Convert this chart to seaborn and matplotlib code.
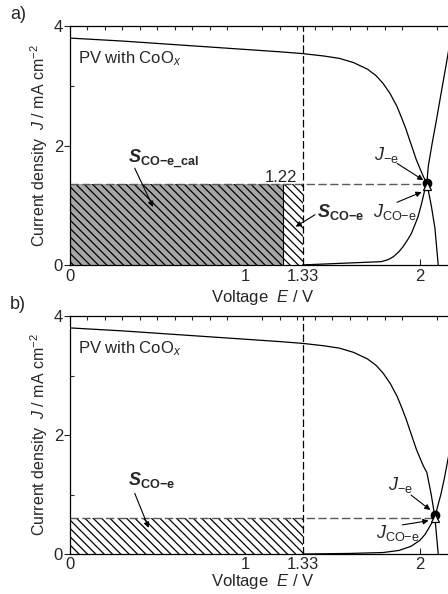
import matplotlib
matplotlib.use('Agg')
import matplotlib.pyplot as plt
import seaborn as sns
import pandas as pd

# PV curve (same cell in both panels)
pv_E = [0.0, 0.3, 0.6, 0.9, 1.2, 1.33, 1.45, 1.54, 1.62, 1.70, 1.75, 1.79, 1.83, 1.87, 1.895, 1.92, 1.95, 1.98, 2.0, 2.02, 2.04, 2.065, 2.086, 2.105]
pv_J = [3.80, 3.75, 3.69, 3.63, 3.57, 3.54, 3.50, 3.46, 3.39, 3.28, 3.17, 3.04, 2.87, 2.65, 2.47, 2.28, 2.02, 1.76, 1.62, 1.48, 1.37, 1.0, 0.62, 0.0]

# electrolyzer curves
ec_a_E = [1.33, 1.78, 1.82, 1.85, 1.88, 1.905, 1.93, 1.952, 1.97, 1.99, 2.01, 2.03, 2.04, 2.048, 2.07, 2.095, 2.12, 2.152, 2.2]
ec_a_J = [0.0, 0.055, 0.09, 0.14, 0.22, 0.31, 0.42, 0.53, 0.66, 0.81, 1.03, 1.28, 1.37, 1.65, 2.03, 2.43, 2.85, 3.38, 4.2]
ec_b_E = [1.33, 1.60, 1.79, 1.88, 1.95, 2.0, 2.03, 2.05, 2.07, 2.086, 2.10, 2.12, 2.14, 2.16, 2.2]
ec_b_J = [0.0, 0.01, 0.025, 0.06, 0.13, 0.23, 0.33, 0.43, 0.53, 0.62, 0.78, 1.0, 1.27, 1.58, 2.2]

# operating points
E_op = [2.04, 2.086]
J_e = [1.38, 0.65]
J_coe = [1.33, 0.60]
J_line = [1.35, 0.61]
E_cal = 1.22
E_th = 1.33

xticks = [0, 1, 1.33, 2]
xticklabels = ['0', '1', '1.33', '2']

sns.set_style('ticks')
plt.rcParams['font.family'] = ['Liberation Sans', 'DejaVu Sans']
plt.rcParams['mathtext.fontset'] = 'custom'
plt.rcParams['mathtext.rm'] = 'Liberation Sans'
plt.rcParams['mathtext.it'] = 'Liberation Sans:italic'
plt.rcParams['mathtext.bf'] = 'Liberation Sans:bold'
plt.rcParams['mathtext.bfit'] = 'Liberation Sans:bold:italic'
plt.rcParams['hatch.linewidth'] = 0.9

fig = plt.figure(figsize=(4.48, 5.94), dpi=100)
ax_a = fig.add_axes([0.15625, 0.554, 0.859, 0.402])
ax_b = fig.add_axes([0.15625, 0.0673, 0.859, 0.4007])

pv_df = pd.DataFrame({'E': pv_E, 'J': pv_J})
ec_dfs = [pd.DataFrame({'E': ec_a_E, 'J': ec_a_J}), pd.DataFrame({'E': ec_b_E, 'J': ec_b_J})]

for i, ax in enumerate([ax_a, ax_b]):
    sns.lineplot(data=pv_df, x='E', y='J', color='k', lw=0.9, sort=False, estimator=None, ax=ax)
    sns.lineplot(data=ec_dfs[i], x='E', y='J', color='k', lw=0.9, sort=False, estimator=None, ax=ax)

    # shaded areas
    if i == 0:
        ax.fill_between([0, E_cal], 0, J_line[i], facecolor='#a6a6a6', edgecolor='k', hatch='\\\\\\\\', lw=0, zorder=1)
        ax.fill_between([E_cal, E_th], 0, J_line[i], facecolor='white', edgecolor='k', hatch='\\\\\\\\', lw=0, zorder=1)
        ax.plot([E_cal, E_cal], [0, J_line[i]], color='k', lw=0.8, zorder=2)
    else:
        ax.fill_between([0, E_th], 0, J_line[i], facecolor='white', edgecolor='k', hatch='\\\\\\\\', lw=0, zorder=1)

    ax.axvline(E_th, color='k', lw=0.9, dashes=(6, 2.5), zorder=2)
    ax.plot([0, E_op[i]], [J_line[i], J_line[i]], color='0.35', lw=1.0, dashes=(6, 2.5), zorder=2)

    ax.plot(E_op[i], J_e[i], marker='o', ms=6, color='k', ls='none', zorder=5)
    ax.plot(E_op[i], J_coe[i], marker='^', ms=6, mfc='white', mec='k', mew=0.9, ls='none', zorder=6)

    ax.set_xlim(0, 2.2)
    ax.set_ylim(0, 4)
    ax.set_xticks(xticks)
    ax.set_xticklabels(xticklabels)
    ax.set_yticks([0, 2, 4])
    ax.set_yticks([1, 3], minor=True)
    ax.set_xticks([k / 10 for k in range(23)], minor=True)
    ax.tick_params(axis='x', which='major', direction='in', length=4, width=0.8, labelsize=12, pad=3 if i == 0 else 2)
    ax.tick_params(axis='x', which='minor', direction='in', length=3, width=0.8, top=True, bottom=False)
    ax.tick_params(axis='y', which='major', direction='out', length=4, width=0.8, labelsize=12, pad=1)
    ax.tick_params(axis='y', which='minor', direction='in', length=3, width=0.8)
    for s in ax.spines.values():
        s.set_linewidth(0.9)
        s.set_color('k')
    ax.set_xlabel('Voltage  $E$ / V', fontsize=12, labelpad=3 if i == 0 else 0)
    ax.set_ylabel('Current density  $J$ / mA cm$^{-2}$', fontsize=11.5, labelpad=3)

    ax.text(0.045, 3.45, 'PV with CoO$_x$', fontsize=12, ha='left', va='center')

arrow = dict(arrowstyle='-|>', color='k', lw=0.8, mutation_scale=8, shrinkA=0, shrinkB=0)

# panel a annotations
ax_a.text(0.33, 1.76, r'$\mathbfit{S}_{\mathbf{CO{-}e\_cal}}$', fontsize=13, ha='left', va='center')
ax_a.annotate('', xy=(0.475, 0.97), xytext=(0.37, 1.62), arrowprops=arrow)
ax_a.text(1.205, 1.47, '1.22', fontsize=12, ha='center', va='center')
ax_a.text(1.41, 0.89, r'$\mathbfit{S}_{\mathbf{CO{-}e}}$', fontsize=13, ha='left', va='center')
ax_a.annotate('', xy=(1.29, 0.64), xytext=(1.40, 0.84), arrowprops=arrow)
ax_a.text(1.74, 1.84, r'$J_{\mathrm{-e}}$', fontsize=13, ha='left', va='center')
ax_a.annotate('', xy=(2.02, 1.42), xytext=(1.87, 1.70), arrowprops=arrow)
ax_a.text(1.73, 0.89, r'$J_{\mathrm{CO{-}e}}$', fontsize=13, ha='left', va='center')
ax_a.annotate('', xy=(2.01, 1.22), xytext=(1.87, 1.05), arrowprops=arrow)

# panel b annotations
ax_b.text(0.33, 1.24, r'$\mathbfit{S}_{\mathbf{CO{-}e}}$', fontsize=13, ha='left', va='center')
ax_b.annotate('', xy=(0.45, 0.44), xytext=(0.37, 1.02), arrowprops=arrow)
ax_b.text(1.82, 1.16, r'$J_{\mathrm{-e}}$', fontsize=13, ha='left', va='center')
ax_b.annotate('', xy=(2.06, 0.74), xytext=(1.95, 0.99), arrowprops=arrow)
ax_b.text(1.75, 0.35, r'$J_{\mathrm{CO{-}e}}$', fontsize=13, ha='left', va='center')
ax_b.annotate('', xy=(2.05, 0.56), xytext=(1.90, 0.49), arrowprops=arrow)

fig.text(0.022, 0.975, 'a)', fontsize=13, ha='left', va='center')
fig.text(0.022, 0.487, 'b)', fontsize=13, ha='left', va='center')

fig.savefig('out.png', dpi=100)
